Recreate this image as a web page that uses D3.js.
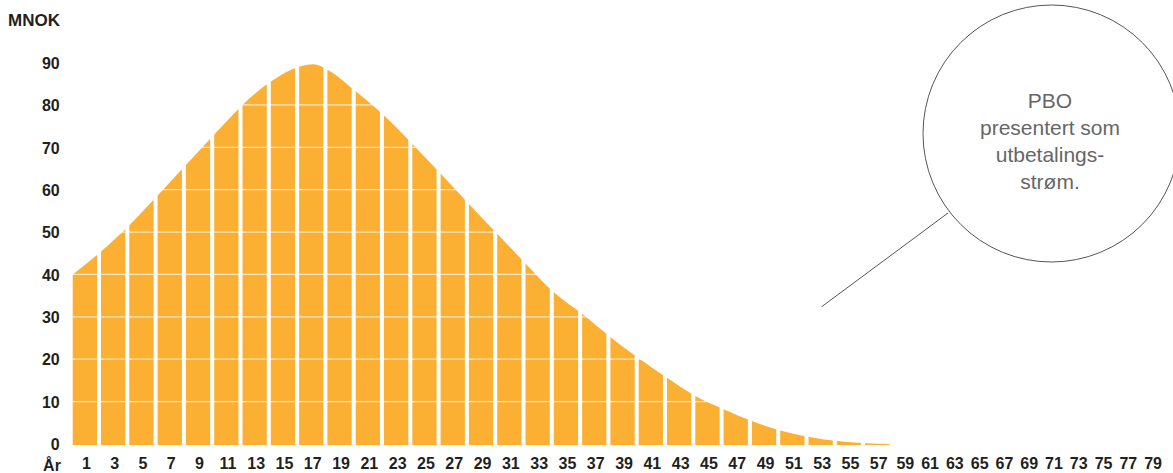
<!DOCTYPE html>
<html>
<head>
<meta charset="utf-8">
<script src="https://cdn.jsdelivr.net/npm/d3@7"></script>
<style>
  html, body { margin: 0; padding: 0; background: #fff; }
  svg { display: block; }
  .axis text { font-family: "Liberation Sans", Arial, Helvetica, sans-serif; font-weight: bold; font-size: 16px; fill: #231f20; }
</style>
</head>
<body>
<svg id="chart" width="1173" height="473"></svg>
<script>
// Payout stream (MNOK) sampled along the year axis
const curveYears = [0, 2, 4, 6, 8, 10, 12, 14, 16, 17, 18, 20, 22, 24, 26, 28, 30, 32, 34, 36, 38, 40, 42, 44, 46, 48, 50, 52, 54, 56, 58];
const payout     = [40, 45.4, 51.6, 58.6, 65.8, 73, 80, 85.5, 89, 89.6, 88.3, 83.2, 77.5, 70.8, 63.8, 56.6, 49.6, 42.6, 35.8, 30.7, 25.2, 20.2, 15.6, 11.3, 8.2, 5.4, 3.2, 1.7, 0.7, 0.2, 0];

// Column labels on the year axis (one column per two years)
const yearLabels = [1, 3, 5, 7, 9, 11, 13, 15, 17, 19, 21, 23, 25, 27, 29, 31, 33, 35, 37, 39,
                    41, 43, 45, 47, 49, 51, 53, 55, 57, 59, 61, 63, 65, 67, 69, 71, 73, 75, 77, 79];
const yTicks = [0, 10, 20, 30, 40, 50, 60, 70, 80, 90];
const yUnit = "MNOK";
const xUnit = "År";
const noteLines = ["PBO", "presentert som", "utbetalings-", "strøm."];

const svg = d3.select("#chart");
const orange = "#fbb034";
const gap = 4;

// Year axis: columns up to year 58 are wide, the empty tail is compressed
const x = d3.scaleLinear().domain([0, 58, 80]).range([72.7, 893.4, 1166]);
const y = d3.scaleLinear().domain([0, 90]).range([444, 62.5]);

const pts = curveYears.map((t, i) => ({ t, v: payout[i] }));

// Filled payout area
const area = d3.area()
  .x(d => x(d.t))
  .y0(y(0) + 1)
  .y1(d => y(d.v))
  .curve(d3.curveMonotoneX);

svg.append("path")
  .datum(pts)
  .attr("d", area)
  .attr("fill", orange);

const xEnd = x(d3.max(curveYears));

// Pale horizontal grid inside the area
svg.append("g")
  .selectAll("line")
  .data(yTicks.filter(d => d > 0))
  .join("line")
  .attr("x1", x(0))
  .attr("x2", xEnd)
  .attr("y1", d => y(d))
  .attr("y2", d => y(d))
  .attr("stroke", "#fff")
  .attr("stroke-opacity", 0.7)
  .attr("stroke-width", 1.3);

// White separators between two-year columns
const edges = d3.range(2, d3.max(curveYears) + 1, 2);
svg.append("g")
  .selectAll("rect")
  .data(edges)
  .join("rect")
  .attr("x", d => x(d) - gap)
  .attr("width", gap)
  .attr("y", y(90) - 5)
  .attr("height", y(0) - y(90) + 10)
  .attr("fill", "#fff");

// Y axis
const yAxis = svg.append("g")
  .attr("class", "axis")
  .attr("transform", `translate(${x(0)},0)`)
  .call(d3.axisLeft(y).tickValues(yTicks).tickSize(0).tickPadding(13));
yAxis.select(".domain").remove();
yAxis.selectAll("text").attr("dy", "0.36em");

// X axis
const xAxis = svg.append("g")
  .attr("class", "axis")
  .attr("transform", `translate(-1,${y(0) + 14})`)
  .call(d3.axisBottom(x).tickValues(yearLabels).tickFormat(d3.format("d")).tickSize(0).tickPadding(0));
xAxis.select(".domain").remove();

svg.append("text")
  .attr("x", 52).attr("y", 471)
  .attr("text-anchor", "middle")
  .style("font-family", "'Liberation Sans', Arial, sans-serif")
  .style("font-weight", "bold").style("font-size", "16px").style("fill", "#231f20")
  .text(xUnit);

svg.append("text")
  .attr("x", 8).attr("y", 26)
  .style("font-family", "'Liberation Sans', Arial, sans-serif")
  .style("font-weight", "bold").style("font-size", "17px").style("fill", "#231f20")
  .text(yUnit);

// Callout bubble with pointer line
const note = svg.append("g");
note.append("line")
  .attr("x1", 821.7).attr("y1", 306.7)
  .attr("x2", 948).attr("y2", 213)
  .attr("stroke", "#555").attr("stroke-width", 1);
note.append("circle")
  .attr("cx", 1051.5).attr("cy", 133.5).attr("r", 128.5)
  .attr("fill", "none").attr("stroke", "#555").attr("stroke-width", 1);
note.append("g")
  .selectAll("text")
  .data(noteLines)
  .join("text")
  .attr("x", 1050)
  .attr("y", (d, i) => 107.5 + i * 27.3)
  .attr("text-anchor", "middle")
  .style("font-family", "'Liberation Sans', Arial, Helvetica, sans-serif")
  .style("font-size", "21px")
  .style("fill", "#666")
  .text(d => d);
</script>
</body>
</html>
